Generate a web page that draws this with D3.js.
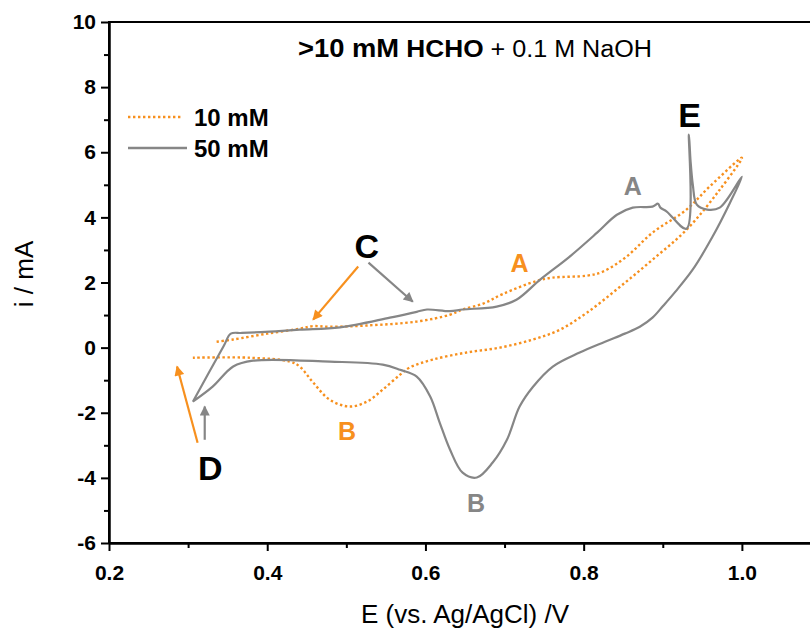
<!DOCTYPE html>
<html>
<head>
<meta charset="utf-8">
<script src="https://cdn.jsdelivr.net/npm/d3@7"></script>
<style>
  body { margin: 0; background: #fff; }
  svg { display: block; font-family: 'Liberation Sans', Arial, sans-serif; }
  .axis path, .axis line { stroke: #000; stroke-width: 2; }
  .frame { fill: none; stroke: #000; stroke-width: 2; }
</style>
</head>
<body>
<svg id="chart"></svg>
<script>
// 10 mM HCHO, potential (V) and current (mA), anodic then cathodic sweep
const potential10 = [0.336, 0.357, 0.400, 0.441, 0.458, 0.479, 0.526, 0.589, 0.631, 0.647, 0.673, 0.698,
  0.741, 0.761, 0.804, 0.824, 0.854, 0.887, 0.930, 0.959, 1.000,
  0.972, 0.930, 0.887, 0.846, 0.804, 0.770, 0.736, 0.694, 0.652, 0.609, 0.580, 0.568, 0.546,
  0.526, 0.504, 0.479, 0.458, 0.441, 0.429, 0.378, 0.306];
const current10 = [0.18, 0.25, 0.43, 0.58, 0.66, 0.64, 0.68, 0.80, 1.01, 1.17, 1.35, 1.65,
  2.05, 2.15, 2.21, 2.33, 2.79, 3.53, 4.24, 4.94, 5.83,
  4.85, 3.62, 2.70, 1.87, 1.07, 0.55, 0.25, 0.00, -0.15, -0.37, -0.61, -0.83, -1.29,
  -1.66, -1.81, -1.60, -1.07, -0.58, -0.43, -0.31, -0.31];

// 50 mM HCHO
const potential50 = [0.306, 0.345, 0.354, 0.368, 0.403, 0.441, 0.492, 0.555, 0.589, 0.602, 0.631, 0.647,
  0.690, 0.715, 0.745, 0.782, 0.817, 0.842, 0.862, 0.887, 0.894, 0.897, 0.905, 0.930, 0.933, 0.935,
  0.938, 0.943, 0.956, 0.972, 1.000,
  0.985, 0.963, 0.938, 0.916, 0.900, 0.887, 0.871, 0.852, 0.827, 0.795, 0.761, 0.736, 0.719, 0.703,
  0.685, 0.665, 0.647, 0.631, 0.618, 0.606, 0.589, 0.568, 0.546, 0.479, 0.382, 0.357, 0.331, 0.306];
const current50 = [-1.66, 0.05, 0.43, 0.45, 0.49, 0.55, 0.62, 0.92, 1.10, 1.17, 1.12, 1.17,
  1.26, 1.47, 2.09, 2.79, 3.53, 4.08, 4.30, 4.33, 4.42, 4.30, 4.18, 3.65, 6.54, 5.77,
  5.00, 4.39, 4.24, 4.30, 5.25,
  4.45, 3.41, 2.40, 1.72, 1.27, 0.92, 0.64, 0.43, 0.18, -0.15, -0.58, -1.20, -1.81, -2.83,
  -3.53, -3.99, -3.84, -3.13, -2.30, -1.50, -0.89, -0.68, -0.52, -0.43, -0.40, -0.58, -1.20, -1.66];

const seriesNames = ['10 mM', '50 mM'];
const xTicks = [0.2, 0.4, 0.6, 0.8, 1.0];
const xMinorTicks = [0.3, 0.5, 0.7, 0.9, 1.1];
const yTicks = [-6, -4, -2, 0, 2, 4, 6, 8, 10];
const yMinorTicks = [-5, -3, -1, 1, 3, 5, 7, 9];

// peak labels in data units: text, E, i, series (null = black)
const labelText = ['A', 'A', 'B', 'B', 'C', 'D', 'E'];
const labelE = [0.719, 0.862, 0.501, 0.664, 0.526, 0.328, 0.934];
const labelI = [2.33, 4.70, -2.83, -5.04, 2.76, -4.05, 6.79];
const labelSeries = ['10 mM', '50 mM', '10 mM', '50 mM', null, null, null];

// arrows in data units: start E, start i, tip E, tip i
const arrowFromE = [0.515, 0.528, 0.312, 0.321];
const arrowFromI = [2.49, 2.61, -2.92, -2.83];
const arrowToE = [0.458, 0.584, 0.286, 0.321];
const arrowToI = [0.86, 1.41, -0.58, -1.81];
const arrowSeries = ['10 mM', '50 mM', '10 mM', '50 mM'];

class CVChart {

  constructor(_config, _data) {
    this.config = {
      parentElement: _config.parentElement,
      containerWidth: _config.containerWidth || 810,
      containerHeight: _config.containerHeight || 628,
      margin: _config.margin || {top: 22, right: -11, bottom: 85, left: 109}
    }
    this.data = _data;
    this.initVis();
  }

  initVis() {
    let vis = this;

    vis.width = vis.config.containerWidth - vis.config.margin.left - vis.config.margin.right;
    vis.height = vis.config.containerHeight - vis.config.margin.top - vis.config.margin.bottom;

    vis.xScale = d3.scaleLinear()
        .domain([0.2, 1.1])
        .range([0, vis.width]);

    vis.yScale = d3.scaleLinear()
        .domain([-6, 10])
        .range([vis.height, 0]);

    vis.color = d3.scaleOrdinal()
        .domain(seriesNames)
        .range(['#f7901e', '#868686']);

    vis.xAxis = d3.axisBottom(vis.xScale)
        .tickValues(xTicks)
        .tickSize(8)
        .tickSizeOuter(0)
        .tickPadding(14)
        .tickFormat(d => d.toFixed(1));

    vis.xAxisMinor = d3.axisBottom(vis.xScale)
        .tickValues(xMinorTicks)
        .tickSize(5)
        .tickSizeOuter(0)
        .tickFormat('');

    // plain hyphen for negatives, as in the original figure
    vis.yAxis = d3.axisLeft(vis.yScale)
        .tickValues(yTicks)
        .tickSize(8)
        .tickSizeOuter(0)
        .tickPadding(5)
        .tickFormat(d => String(d));

    vis.yAxisMinor = d3.axisLeft(vis.yScale)
        .tickValues(yMinorTicks)
        .tickSize(5)
        .tickSizeOuter(0)
        .tickFormat('');

    vis.svg = d3.select(vis.config.parentElement)
        .attr('width', vis.config.containerWidth)
        .attr('height', vis.config.containerHeight);

    vis.chart = vis.svg.append('g')
        .attr('transform', `translate(${vis.config.margin.left},${vis.config.margin.top})`);

    // arrowheads
    const defs = vis.svg.append('defs');
    seriesNames.forEach((name, i) => {
      defs.append('marker')
          .attr('id', `head${i}`)
          .attr('viewBox', '0 0 10 10')
          .attr('refX', 9)
          .attr('refY', 5)
          .attr('markerUnits', 'userSpaceOnUse')
          .attr('markerWidth', 13)
          .attr('markerHeight', 10)
          .attr('orient', 'auto')
        .append('path')
          .attr('d', 'M0,0 L10,5 L0,10 z')
          .attr('fill', vis.color(name));
    });

    vis.chart.append('rect')
        .attr('class', 'frame')
        .attr('width', vis.width)
        .attr('height', vis.height);

    vis.xAxisG = vis.chart.append('g')
        .attr('class', 'axis x-axis')
        .attr('transform', `translate(0,${vis.height})`);
    vis.xMinorG = vis.chart.append('g')
        .attr('class', 'axis x-axis-minor')
        .attr('transform', `translate(0,${vis.height})`);
    vis.yAxisG = vis.chart.append('g')
        .attr('class', 'axis y-axis');
    vis.yMinorG = vis.chart.append('g')
        .attr('class', 'axis y-axis-minor');

    vis.marks = vis.chart.append('g');

    // axis titles
    vis.chart.append('text')
        .attr('class', 'axis-title')
        .attr('x', vis.width / 2)
        .attr('y', vis.height + 80)
        .attr('text-anchor', 'middle')
        .style('font-size', '26px')
        .text('E (vs. Ag/AgCl) /V');

    vis.svg.append('text')
        .attr('class', 'axis-title')
        .attr('transform', `translate(33,274) rotate(-90)`)
        .attr('text-anchor', 'middle')
        .style('font-size', '26px')
        .text('i / mA');

    // title
    const title = vis.chart.append('text')
        .attr('x', 189)
        .attr('y', 35)
        .attr('textLength', 354)
        .attr('lengthAdjust', 'spacingAndGlyphs');
    title.append('tspan')
        .style('font-size', '25px').style('font-weight', 'bold')
        .text('>10 mM');
    title.append('tspan')
        .style('font-size', '24px').style('font-weight', 'bold')
        .text(' HCHO');
    title.append('tspan')
        .style('font-size', '23px')
        .text(' + 0.1 M NaOH');

    // legend
    vis.legend = vis.chart.append('g')
        .attr('transform', 'translate(19,95)');
  }

  updateVis() {
    let vis = this;

    vis.line = d3.line()
        .x(d => vis.xScale(d.E))
        .y(d => vis.yScale(d.i))
        .curve(d3.curveCatmullRom.alpha(0.5));

    vis.labels = labelText.map((t, k) => ({text: t, E: labelE[k], i: labelI[k], series: labelSeries[k]}));
    vis.arrows = arrowFromE.map((e, k) => ({
      x1: e, y1: arrowFromI[k], x2: arrowToE[k], y2: arrowToI[k], series: arrowSeries[k]
    }));

    vis.renderVis();
  }

  renderVis() {
    let vis = this;

    vis.marks.selectAll('.cv-line')
        .data(vis.data)
      .join('path')
        .attr('class', 'cv-line')
        .attr('d', d => vis.line(d.values))
        .attr('fill', 'none')
        .attr('stroke', d => vis.color(d.name))
        .attr('stroke-width', d => d.name === '10 mM' ? 2.4 : 2.2)
        .attr('stroke-dasharray', d => d.name === '10 mM' ? '2.4 2.6' : null)
        .attr('stroke-linejoin', 'round');

    vis.marks.selectAll('.arrow')
        .data(vis.arrows)
      .join('line')
        .attr('class', 'arrow')
        .attr('x1', d => vis.xScale(d.x1))
        .attr('y1', d => vis.yScale(d.y1))
        .attr('x2', d => vis.xScale(d.x2))
        .attr('y2', d => vis.yScale(d.y2))
        .attr('stroke', d => vis.color(d.series))
        .attr('stroke-width', 2.2)
        .attr('marker-end', d => `url(#head${seriesNames.indexOf(d.series)})`);

    vis.marks.selectAll('.peak-label')
        .data(vis.labels)
      .join('text')
        .attr('class', 'peak-label')
        .attr('x', d => vis.xScale(d.E))
        .attr('y', d => vis.yScale(d.i))
        .attr('text-anchor', 'middle')
        .attr('font-weight', 'bold')
        .style('font-size', d => d.series ? '25px' : '34px')
        .attr('fill', d => d.series ? vis.color(d.series) : '#000')
        .text(d => d.text);

    // legend rows
    const rows = vis.legend.selectAll('.legend-row')
        .data(seriesNames)
      .join('g')
        .attr('class', 'legend-row')
        .attr('transform', (d, k) => `translate(0,${k * 31})`);
    rows.append('line')
        .attr('x1', 0)
        .attr('x2', (d, k) => k === 0 ? 54 : 59)
        .attr('y1', 0).attr('y2', 0)
        .attr('stroke', d => vis.color(d))
        .attr('stroke-width', 2.4)
        .attr('stroke-dasharray', (d, k) => k === 0 ? '2.4 2.6' : null);
    rows.append('text')
        .attr('x', 66)
        .attr('y', 9)
        .attr('font-weight', 'bold')
        .style('font-size', '24px')
        .text(d => d);

    vis.xAxisG.call(vis.xAxis);
    vis.xMinorG.call(vis.xAxisMinor);
    vis.yAxisG.call(vis.yAxis);
    vis.yMinorG.call(vis.yAxisMinor);
    vis.svg.selectAll('.x-axis-minor text, .y-axis-minor text').remove();

    vis.svg.selectAll('.x-axis text, .y-axis text')
        .attr('fill', '#000')
        .style('font-family', "'Liberation Sans', Arial, sans-serif")
        .style('font-size', '21px')
        .style('font-weight', 'bold');
  }
}

const series = [
  {name: '10 mM', values: potential10.map((E, k) => ({E: E, i: current10[k]}))},
  {name: '50 mM', values: potential50.map((E, k) => ({E: E, i: current50[k]}))}
];

const cv = new CVChart({parentElement: '#chart'}, series);
cv.updateVis();
</script>
</body>
</html>
